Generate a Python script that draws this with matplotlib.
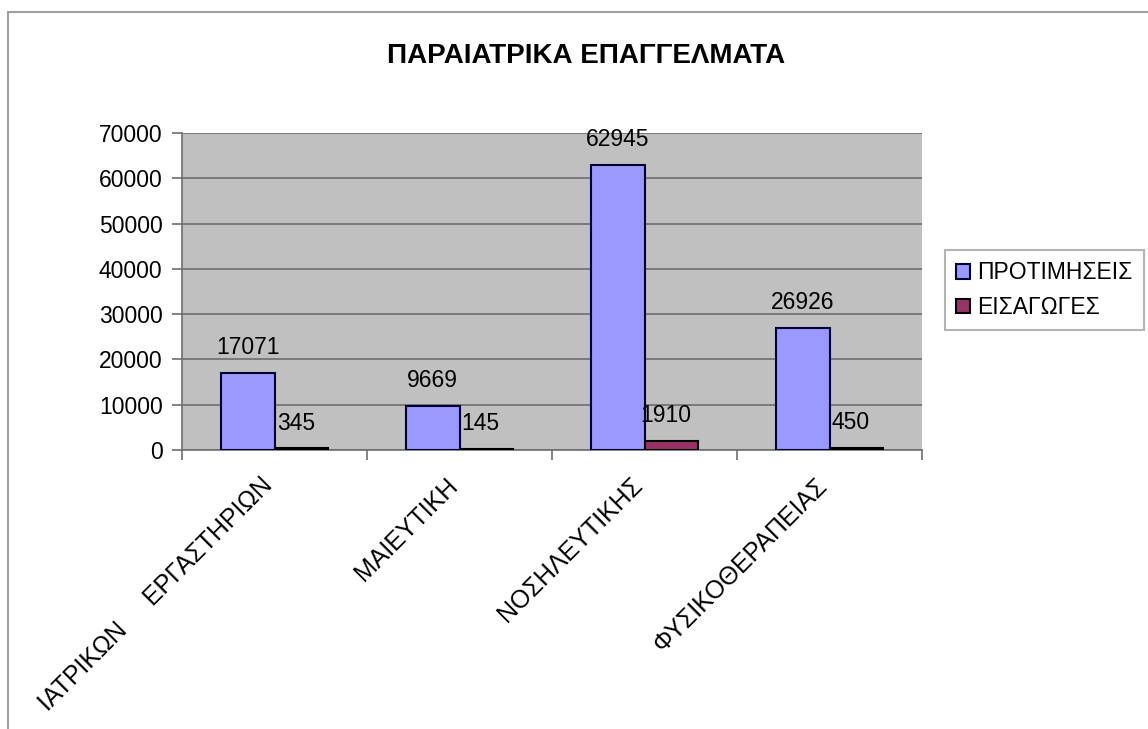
import numpy as np
import matplotlib
matplotlib.use('Agg')
import matplotlib.pyplot as plt
from matplotlib.patches import Rectangle

plt.rcParams['font.family'] = ['Liberation Sans', 'DejaVu Sans']

# data
categories = ['ΙΑΤΡΙΚΩΝ     ΕΡΓΑΣΤΗΡΙΩΝ', 'ΜΑΙΕΥΤΙΚΗ', 'ΝΟΣΗΛΕΥΤΙΚΗΣ', 'ΦΥΣΙΚΟΘΕΡΑΠΕΙΑΣ']
protimiseis = [17071, 9669, 62945, 26926]
eisagoges = [345, 145, 1910, 450]
series_names = ['ΠΡΟΤΙΜΗΣΕΙΣ', 'ΕΙΣΑΓΩΓΕΣ']
yticks = [0, 10000, 20000, 30000, 40000, 50000, 60000, 70000]

fig = plt.figure(figsize=(11.48, 7.29), dpi=100)
fig.patch.set_facecolor('white')

# outer chart border (only top and left visible in the original)
fig.patches.append(Rectangle((8/1148, -0.2), 1.5, 1.2 - 12/729,
                             transform=fig.transFigure, fill=False,
                             edgecolor='#a0a0a0', lw=1.5, zorder=0))

ax = fig.add_axes([182/1148, 1 - 450/729, 740/1148, 317/729])
ax.set_facecolor('#c0c0c0')

x = np.arange(len(categories))
w = 0.29
b1 = ax.bar(x - w/2, protimiseis, w, color='#9999ff', edgecolor='#000033', lw=1.5,
            label=series_names[0], zorder=3)
b2 = ax.bar(x + w/2, eisagoges, w, color='#993366', edgecolor='#000000', lw=1.5,
            label=series_names[1], zorder=3)

for rect, v in zip(b1, protimiseis):
    ax.annotate(str(v), (rect.get_x() + rect.get_width()/2, v), xytext=(0, 10),
                textcoords='offset points', ha='center', va='bottom', fontsize=16.5)
for rect, v in zip(b2, eisagoges):
    ax.annotate(str(v), (rect.get_x() + rect.get_width()/2 - 0.03, v), xytext=(0, 10),
                textcoords='offset points', ha='center', va='bottom', fontsize=16.5)

ax.set_xlim(-0.5, len(categories) - 0.5)
ax.set_ylim(0, 70000)
ax.set_yticks(yticks)
ax.set_yticklabels([str(t) for t in yticks], fontsize=16.5)
ax.yaxis.grid(True, color='#6e6e6e', lw=1.2, zorder=1)
ax.set_axisbelow(True)

# category labels at centers, tick marks at the boundaries
ax.set_xticks(np.arange(len(categories) + 1) - 0.5)
ax.set_xticklabels([])
ax.tick_params(axis='x', length=7, color='#6e6e6e', width=1.2)
ax.tick_params(axis='y', length=7, color='#6e6e6e', width=1.2, pad=7)
for i, c in enumerate(categories):
    ax.text(i - 0.03, -0.1, c, transform=ax.get_xaxis_transform(), rotation=45,
            rotation_mode='anchor', ha='right', va='center', fontsize=18)

for s in ['left', 'bottom']:
    ax.spines[s].set_color('#6e6e6e')
    ax.spines[s].set_linewidth(1.2)
for s in ['top', 'right']:
    ax.spines[s].set_visible(False)

fig.text(586/1148, 1 - 56/729, 'ΠΑΡΑΙΑΤΡΙΚΑ ΕΠΑΓΓΕΛΜΑΤΑ', ha='center', va='center',
         fontsize=20, fontweight='bold')

leg = fig.legend(handles=[b1, b2], labels=series_names, loc='upper left',
                 bbox_to_anchor=(945/1148, 1 - 250/729), fontsize=16.5,
                 frameon=True, fancybox=False, edgecolor='#a0a0a0',
                 handlelength=0.6, handleheight=0.6, handletextpad=0.3,
                 borderpad=0.5, labelspacing=0.5, borderaxespad=0)
leg.get_frame().set_linewidth(1.5)

fig.savefig('out.png', dpi=100)
